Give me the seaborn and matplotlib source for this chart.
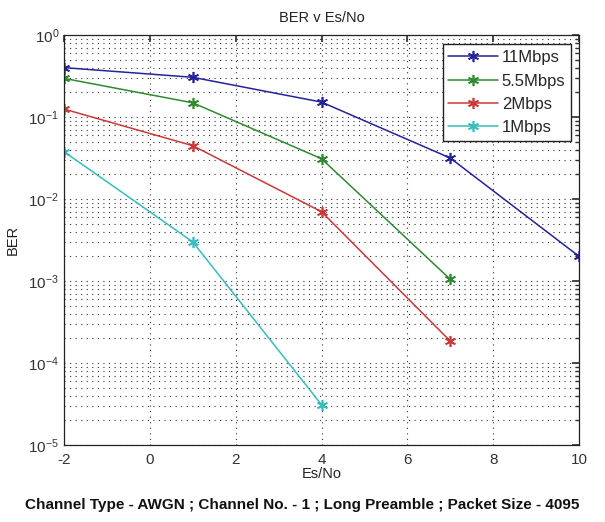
import matplotlib
matplotlib.use("Agg")
import matplotlib.pyplot as plt
import seaborn as sns
import pandas as pd
import numpy as np
from matplotlib.ticker import LogLocator, NullFormatter

sns.set_theme(style="white")
plt.rcParams['font.family'] = ['Liberation Sans', 'DejaVu Sans']
plt.rcParams['axes.unicode_minus'] = False

esno = [-2, 1, 4, 7, 10]
ber_11 = [0.40, 0.305, 0.152, 0.0316, 0.0020]
ber_55 = [0.296, 0.149, 0.031, 0.00105]
ber_2 = [0.125, 0.0447, 0.0070, 1.85e-4]
ber_1 = [0.0378, 0.0030, 3.1e-5]
series_names = ["11Mbps", "5.5Mbps", "2Mbps", "1Mbps"]
series_vals = [ber_11, ber_55, ber_2, ber_1]
colors = ["#23239a", "#2f8a2f", "#cc3838", "#38bcbc"]

rows = []
for name, vals in zip(series_names, series_vals):
    for x, y in zip(esno, vals):
        rows.append({"Es/No": x, "BER": y, "rate": name})
df = pd.DataFrame(rows)

fig = plt.figure(figsize=(6.05, 5.22), dpi=100)
ax = fig.add_axes([64/605, 1-445/522, (579-64)/605, (445-35)/522])

sns.lineplot(data=df, x="Es/No", y="BER", hue="rate", hue_order=series_names,
             palette=colors, marker=(6, 2, 0), markersize=8, markeredgewidth=1.2,
             linewidth=1.1, ax=ax, legend=False, sort=False)

for ln in ax.get_lines():
    ln.set_markeredgecolor(ln.get_color())
    ln.set_markerfacecolor(ln.get_color())

ax.set_yscale("log")
ax.set_xlim(-2, 10)
ax.set_ylim(1e-5, 1)
ax.set_xticks([-2, 0, 2, 4, 6, 8, 10])
ax.yaxis.set_major_locator(LogLocator(base=10, numticks=10))
ax.yaxis.set_minor_locator(LogLocator(base=10, subs=np.arange(2, 10), numticks=100))
ax.yaxis.set_minor_formatter(NullFormatter())

ax.grid(True, which="major", linestyle=(0, (1, 4)), color="#333333", linewidth=0.8)
ax.grid(True, which="minor", axis="y", linestyle=(0, (1, 4)), color="#333333", linewidth=0.8)
ax.tick_params(axis="both", which="both", direction="in", top=True, right=True,
               labelsize=11, colors="#333333")
ax.tick_params(axis="x", pad=6)
ax.tick_params(which="major", length=5)
ax.tick_params(which="minor", length=3)
for sp in ax.spines.values():
    sp.set_color("#222222")
    sp.set_linewidth(0.9)

ax.set_title("BER v Es/No", fontsize=10.5, color="#222222", pad=9)
ax.set_xlabel("Es/No", fontsize=10.5, color="#222222", labelpad=0)
ax.set_ylabel("BER", fontsize=10.5, color="#222222", labelpad=6)

handles = ax.get_lines()[:len(series_names)]
leg = ax.legend(handles, series_names, loc="upper right", fontsize=12, frameon=True,
                fancybox=False, edgecolor="#222222", framealpha=1, handlelength=3.0,
                borderpad=0.35, labelspacing=0.5, handletextpad=0.2,
                borderaxespad=0.0, bbox_to_anchor=(0.985, 0.977))
leg.get_frame().set_linewidth(1.0)

fig.text(0.5, 1-505/522, "Channel Type - AWGN ; Channel No. - 1 ; Long Preamble ; Packet Size - 4095",
         ha="center", va="center", fontsize=11, fontweight="bold", color="#111111")

fig.savefig("out.png", dpi=100)
